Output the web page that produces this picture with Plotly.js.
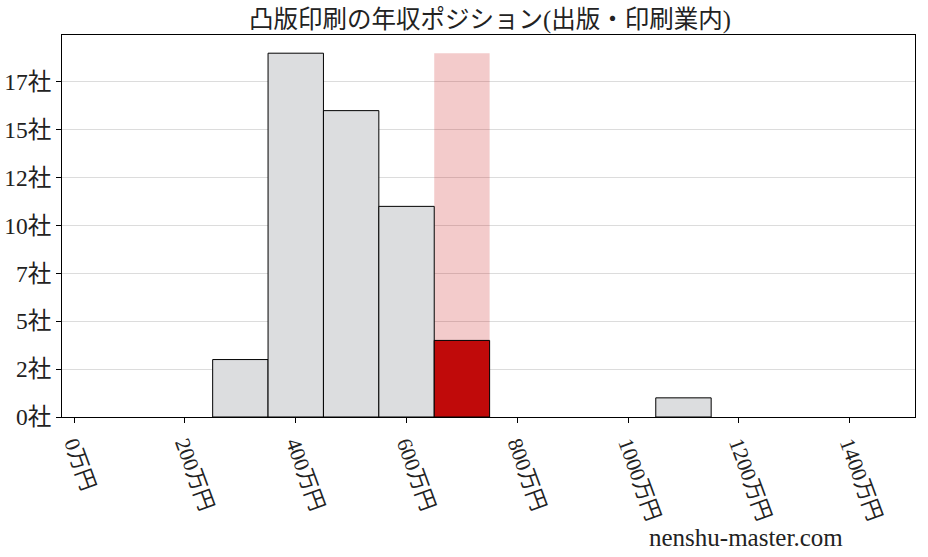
<!DOCTYPE html>
<html>
<head>
<meta charset="utf-8">
<script src="https://cdn.plot.ly/plotly-3.0.1.min.js"></script>
<style>body{margin:0;padding:0;background:#fff;}#chart{width:928px;height:557px;}</style>
</head>
<body>
<div id="chart"></div>
<script>
const binCenters = [300, 400, 500, 600, 1100];
const binCounts = [3, 19, 16, 11, 1];
const highlightCenter = [700];
const highlightCount = [4];
const highlightBgCount = [19];
const xTickVals = [0, 200, 400, 600, 800, 1000, 1200, 1400];
const xTickText = ["0万円", "200万円", "400万円", "600万円", "800万円", "1000万円", "1200万円", "1400万円"];
const yTickVals = [0, 2.5, 5, 7.5, 10, 12.5, 15, 17.5];
const yTickText = ["0社", "2社", "5社", "7社", "10社", "12社", "15社", "17社"];
const titleText = "凸版印刷の年収ポジション(出版・印刷業内)";
const watermark = "nenshu-master.com";

const FONT = '"Liberation Serif", "Noto Sans CJK JP", serif';

const traces = [
  {
    type: 'bar', x: highlightCenter, y: highlightBgCount, width: 100,
    marker: {color: 'rgba(200,20,20,0.22)', line: {width: 0}},
    hoverinfo: 'skip'
  },
  {
    type: 'bar', x: binCenters, y: binCounts, width: 100,
    marker: {color: '#dcdddf', line: {color: '#000', width: 1}}
  },
  {
    type: 'bar', x: highlightCenter, y: highlightCount, width: 100,
    marker: {color: '#c00a0a', line: {color: '#000', width: 1}}
  }
];

const layout = {
  width: 928, height: 557,
  margin: {l: 62, r: 13, t: 35, b: 140},
  paper_bgcolor: '#fff', plot_bgcolor: '#fff',
  showlegend: false,
  barmode: 'overlay',
  font: {family: FONT, color: '#222'},
  title: {text: titleText, font: {family: FONT, size: 24.5, color: '#222'}, x: 0.528, xanchor: 'center', y: 0.966, yanchor: 'middle'},
  xaxis: {
    range: [-22, 1518], tickvals: xTickVals, ticktext: xTickText,
    tickangle: 70, tickfont: {family: FONT, size: 21.5, color: '#222'},
    showgrid: false, zeroline: false,
    showline: true, linecolor: '#000', linewidth: 1, mirror: true,
    ticks: 'outside', ticklen: 5, tickcolor: '#000'
  },
  yaxis: {
    range: [0, 19.95], tickvals: yTickVals, ticktext: yTickText,
    tickfont: {family: FONT, size: 23.5, color: '#222'},
    automargin: false,
    showgrid: true, gridcolor: '#dcdcdc', gridwidth: 1, zeroline: false,
    showline: true, linecolor: '#000', linewidth: 1, mirror: true,
    ticks: 'outside', ticklen: 5, tickcolor: '#000'
  },
  annotations: [{
    text: watermark, xref: 'paper', yref: 'paper',
    x: 0.918, y: -0.315, xanchor: 'right', yanchor: 'middle',
    showarrow: false,
    font: {family: FONT, size: 25, color: '#222'}
  }]
};

Plotly.newPlot('chart', traces, layout, {displayModeBar: false, staticPlot: true});
</script>
</body>
</html>
